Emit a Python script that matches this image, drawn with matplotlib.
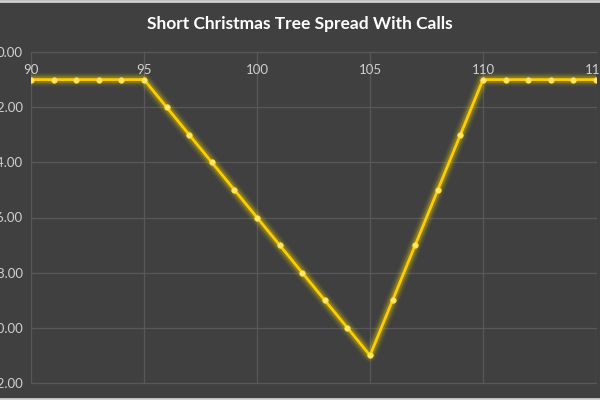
import matplotlib
matplotlib.use("Agg")
import matplotlib.pyplot as plt

strikes = [90, 91, 92, 93, 94, 95, 96, 97, 98, 99, 100, 101, 102, 103, 104,
           105, 106, 107, 108, 109, 110, 111, 112, 113, 114, 115]
payoff = [-1, -1, -1, -1, -1, -1, -2, -3, -4, -5, -6, -7, -8, -9, -10,
          -11, -9, -7, -5, -3, -1, -1, -1, -1, -1, -1]
x_ticks = [90, 95, 100, 105, 110, 115]
y_ticks = [0, -2, -4, -6, -8, -10, -12]

bg = "#404040"
fig = plt.figure(figsize=(6, 4), dpi=100, facecolor=bg)
ax = fig.add_axes([31/600, 1 - 383/400, 565/600, 331/400])
ax.set_facecolor(bg)
ax.set_xlim(90, 115)
ax.set_ylim(-12, 0)

ax.set_xticks(x_ticks)
ax.set_yticks(y_ticks)
ax.set_yticklabels([f"{v:.2f}" for v in y_ticks])
ax.grid(True, color="#585858", linewidth=0.9)
for gl in ax.get_xgridlines() + ax.get_ygridlines():
    gl.set_clip_on(False)
for s in ax.spines.values():
    s.set_visible(False)
ax.spines['bottom'].set_visible(True)
ax.spines['bottom'].set_position(('data', 0))
ax.spines['bottom'].set_color("#585858")
ax.tick_params(axis='both', length=0, colors="#d0d0d0", labelsize=9.5)
ax.tick_params(axis='x', pad=9)
ax.tick_params(axis='y', pad=6)
for lbl in ax.get_xticklabels() + ax.get_yticklabels():
    lbl.set_family("Lato")

# glow
for lw, a in [(10, 0.06), (8, 0.09), (6, 0.14), (4.5, 0.2)]:
    ax.plot(strikes, payoff, color="#e6d200", linewidth=lw, alpha=a,
            solid_capstyle="round", solid_joinstyle="round", zorder=3)
ax.plot(strikes, payoff, color="#ffcc00", linewidth=2.0, zorder=4,
        solid_joinstyle="miter")
ax.plot(strikes, payoff, linestyle="none", marker="o", markersize=4,
        markerfacecolor="#ffe870", markeredgecolor="#ffd830",
        markeredgewidth=0.5, zorder=5)

fig.text(0.5, 1 - 24/400, "Short Christmas Tree Spread With Calls",
         ha="center", va="center", color="white", fontsize=12.5,
         fontweight="bold", family="Lato")

# light border lines at top and bottom
fig.add_artist(plt.Line2D([0, 1], [0.998, 0.998], color="#d0d0d0", linewidth=2,
                          transform=fig.transFigure))
fig.add_artist(plt.Line2D([0, 1], [0.003, 0.003], color="#d0d0d0", linewidth=2,
                          transform=fig.transFigure))

fig.savefig("out.png", dpi=100, facecolor=bg)
